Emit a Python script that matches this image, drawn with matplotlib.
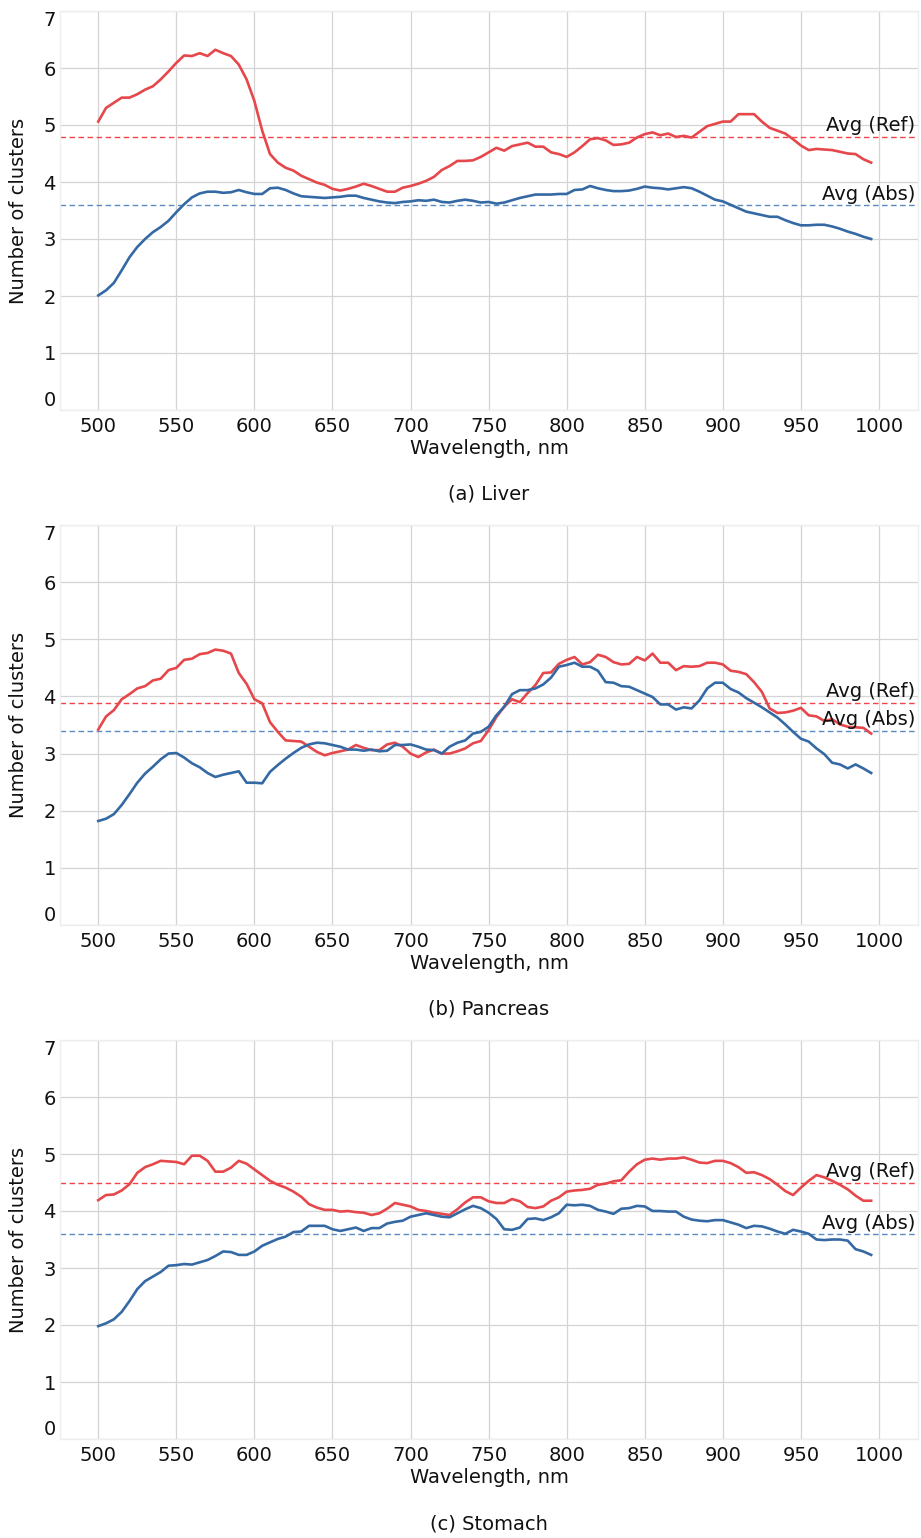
import numpy as np
import matplotlib
matplotlib.use("Agg")
import matplotlib.pyplot as plt

wavelengths = list(range(500, 1000, 5))

liver_ref = [5.06, 5.30, 5.39, 5.48, 5.48, 5.54, 5.62, 5.68, 5.80, 5.94,
             6.09, 6.22, 6.21, 6.26, 6.21, 6.32, 6.26, 6.21, 6.06, 5.80,
             5.42, 4.90, 4.49, 4.34, 4.25, 4.20, 4.11, 4.05, 3.99, 3.95,
             3.88, 3.85, 3.88, 3.92, 3.97, 3.93, 3.88, 3.83, 3.83, 3.90,
             3.93, 3.97, 4.02, 4.09, 4.21, 4.28, 4.37, 4.37, 4.38, 4.44,
             4.52, 4.60, 4.55, 4.63, 4.66, 4.69, 4.62, 4.62, 4.52, 4.49,
             4.44, 4.52, 4.63, 4.75, 4.77, 4.73, 4.65, 4.66, 4.69, 4.78,
             4.84, 4.87, 4.82, 4.85, 4.79, 4.81, 4.78, 4.88, 4.98, 5.02,
             5.06, 5.06, 5.19, 5.19, 5.19, 5.06, 4.95, 4.90, 4.85, 4.75,
             4.64, 4.56, 4.58, 4.57, 4.56, 4.53, 4.50, 4.49, 4.40, 4.34]
liver_abs = [2.01, 2.10, 2.23, 2.45, 2.68, 2.86, 3.00, 3.12, 3.21, 3.32,
             3.47, 3.61, 3.73, 3.80, 3.83, 3.83, 3.81, 3.82, 3.86, 3.82,
             3.79, 3.79, 3.89, 3.90, 3.86, 3.80, 3.75, 3.74, 3.73, 3.72,
             3.73, 3.74, 3.76, 3.76, 3.72, 3.69, 3.66, 3.64, 3.63, 3.65,
             3.66, 3.68, 3.67, 3.69, 3.65, 3.64, 3.67, 3.69, 3.67, 3.64,
             3.65, 3.62, 3.64, 3.68, 3.72, 3.75, 3.78, 3.78, 3.78, 3.79,
             3.79, 3.86, 3.87, 3.93, 3.89, 3.86, 3.84, 3.84, 3.85, 3.88,
             3.92, 3.90, 3.89, 3.87, 3.89, 3.91, 3.89, 3.83, 3.76, 3.69,
             3.66, 3.60, 3.54, 3.48, 3.45, 3.42, 3.39, 3.39, 3.33, 3.28,
             3.24, 3.24, 3.25, 3.25, 3.22, 3.18, 3.13, 3.09, 3.04, 3.00]

pancreas_ref = [3.42, 3.65, 3.76, 3.95, 4.04, 4.14, 4.18, 4.28, 4.31, 4.46,
                4.50, 4.64, 4.66, 4.74, 4.76, 4.82, 4.80, 4.75, 4.41, 4.22,
                3.95, 3.88, 3.55, 3.38, 3.23, 3.22, 3.21, 3.12, 3.03, 2.97,
                3.01, 3.04, 3.07, 3.15, 3.10, 3.06, 3.06, 3.16, 3.19, 3.12,
                3.00, 2.94, 3.02, 3.07, 3.00, 3.00, 3.04, 3.09, 3.18, 3.22,
                3.41, 3.64, 3.82, 3.95, 3.90, 4.06, 4.20, 4.41, 4.42, 4.57,
                4.64, 4.69, 4.56, 4.60, 4.73, 4.69, 4.60, 4.56, 4.57, 4.69,
                4.63, 4.75, 4.59, 4.59, 4.46, 4.53, 4.52, 4.53, 4.59, 4.59,
                4.56, 4.45, 4.43, 4.39, 4.25, 4.08, 3.79, 3.71, 3.72, 3.75,
                3.80, 3.67, 3.65, 3.57, 3.60, 3.51, 3.47, 3.46, 3.45, 3.35]
pancreas_abs = [1.82, 1.86, 1.94, 2.10, 2.29, 2.49, 2.65, 2.77, 2.90, 3.00,
                3.01, 2.93, 2.83, 2.76, 2.66, 2.59, 2.63, 2.66, 2.69, 2.49,
                2.49, 2.48, 2.68, 2.80, 2.91, 3.01, 3.10, 3.16, 3.19, 3.18,
                3.15, 3.12, 3.07, 3.07, 3.05, 3.07, 3.04, 3.05, 3.15, 3.15,
                3.16, 3.12, 3.07, 3.06, 3.00, 3.12, 3.19, 3.23, 3.35, 3.38,
                3.47, 3.67, 3.82, 4.04, 4.11, 4.11, 4.14, 4.21, 4.33, 4.52,
                4.55, 4.59, 4.52, 4.52, 4.45, 4.25, 4.24, 4.18, 4.17, 4.11,
                4.05, 3.99, 3.86, 3.86, 3.77, 3.81, 3.79, 3.93, 4.14, 4.24,
                4.24, 4.13, 4.07, 3.97, 3.89, 3.81, 3.72, 3.63, 3.51, 3.38,
                3.26, 3.21, 3.09, 2.99, 2.84, 2.81, 2.74, 2.81, 2.74, 2.66]

stomach_ref = [4.19, 4.28, 4.29, 4.36, 4.47, 4.67, 4.77, 4.82, 4.88, 4.87,
               4.86, 4.82, 4.97, 4.97, 4.88, 4.69, 4.69, 4.76, 4.88, 4.83,
               4.73, 4.63, 4.53, 4.46, 4.41, 4.34, 4.25, 4.12, 4.06, 4.02,
               4.02, 3.99, 4.00, 3.98, 3.97, 3.93, 3.96, 4.04, 4.14, 4.11,
               4.08, 4.02, 4.00, 3.97, 3.95, 3.93, 4.03, 4.15, 4.24, 4.24,
               4.17, 4.14, 4.14, 4.21, 4.17, 4.07, 4.05, 4.08, 4.18, 4.24,
               4.34, 4.36, 4.37, 4.39, 4.46, 4.48, 4.52, 4.54, 4.69, 4.82,
               4.90, 4.92, 4.90, 4.92, 4.92, 4.94, 4.90, 4.85, 4.84, 4.88,
               4.88, 4.84, 4.77, 4.67, 4.68, 4.63, 4.56, 4.46, 4.35, 4.28,
               4.41, 4.53, 4.63, 4.59, 4.53, 4.46, 4.38, 4.27, 4.18, 4.18]
stomach_abs = [1.98, 2.03, 2.10, 2.23, 2.42, 2.63, 2.77, 2.85, 2.93, 3.04,
               3.05, 3.07, 3.06, 3.10, 3.14, 3.21, 3.29, 3.28, 3.23, 3.23,
               3.29, 3.39, 3.45, 3.51, 3.55, 3.63, 3.64, 3.74, 3.74, 3.74,
               3.68, 3.65, 3.68, 3.71, 3.65, 3.70, 3.70, 3.78, 3.81, 3.83,
               3.90, 3.93, 3.96, 3.93, 3.90, 3.89, 3.96, 4.03, 4.09, 4.05,
               3.97, 3.86, 3.68, 3.67, 3.71, 3.86, 3.87, 3.84, 3.89, 3.96,
               4.11, 4.10, 4.11, 4.09, 4.02, 3.99, 3.95, 4.04, 4.05, 4.09,
               4.08, 4.00, 4.00, 3.99, 3.99, 3.90, 3.85, 3.83, 3.82, 3.84,
               3.84, 3.80, 3.76, 3.70, 3.74, 3.73, 3.69, 3.64, 3.60, 3.67,
               3.64, 3.60, 3.50, 3.49, 3.50, 3.50, 3.48, 3.33, 3.29, 3.23]

avg_ref = [4.79, 3.89, 4.49]
avg_abs = [3.59, 3.40, 3.59]
captions = ["(a) Liver", "(b) Pancreas", "(c) Stomach"]
ref_series = [liver_ref, pancreas_ref, stomach_ref]
abs_series = [liver_abs, pancreas_abs, stomach_abs]
x_ticks = [500, 550, 600, 650, 700, 750, 800, 850, 900, 950, 1000]
y_ticks = [0, 1, 2, 3, 4, 5, 6, 7]

RED = "#e5474b"
BLUE = "#3469a4"
RED_D = "#f0434a"
BLUE_D = "#5a8ac4"

plt.rcParams['font.family'] = ['DejaVu Sans']
fig = plt.figure(figsize=(9.21, 15.38), dpi=100)

W, H = 921, 1538
left_px, right_px = 60, 918
panels_px = [(11, 410), (525, 925), (1040, 1439)]
caption_y = [494, 1009, 1524]
FS = 14

for i, (top, bot) in enumerate(panels_px):
    ax = fig.add_axes([left_px / W, 1 - bot / H, (right_px - left_px) / W, (bot - top) / H])
    ax.plot(wavelengths, ref_series[i], color=RED, lw=1.9, zorder=3)
    ax.plot(wavelengths, abs_series[i], color=BLUE, lw=1.9, zorder=3)
    ax.axhline(avg_ref[i], color=RED_D, lw=1.0, ls=(0, (4, 2.5)), zorder=2)
    ax.axhline(avg_abs[i], color=BLUE_D, lw=1.0, ls=(0, (4, 2.5)), zorder=2)
    ax.text(1023, avg_ref[i] + 0.1, "Avg (Ref)", ha='right', va='baseline',
            fontsize=FS, color='#111111', zorder=4)
    ax.text(1023, avg_abs[i] + 0.1, "Avg (Abs)", ha='right', va='baseline',
            fontsize=FS, color='#111111', zorder=4)
    ax.set_xlim(475.5, 1025)
    ax.set_ylim(0, 7)
    ax.set_xticks(x_ticks)
    ax.set_yticks(y_ticks)
    ax.grid(True, color='#d4d4d4', lw=0.9)
    ax.set_axisbelow(True)
    for s in ax.spines.values():
        s.set_color('#eeeeee')
        s.set_linewidth(1.0)
    ax.tick_params(axis='y', length=0, labelsize=FS, pad=3, colors='#111111')
    ax.tick_params(axis='x', length=0, labelsize=FS, pad=5, colors='#111111')
    labels = ax.get_yticklabels()
    labels[0].set_verticalalignment('bottom')
    labels[-1].set_verticalalignment('top')
    ax.set_xlabel("Wavelength, nm", fontsize=FS, labelpad=2, color='#111111')
    ax.set_ylabel("Number of clusters", fontsize=FS, labelpad=11, color='#111111')
    fig.text(489 / W, 1 - caption_y[i] / H, captions[i], ha='center', va='center',
             fontsize=FS, color='#111111')

fig.savefig("out.png", dpi=100, facecolor='white')
